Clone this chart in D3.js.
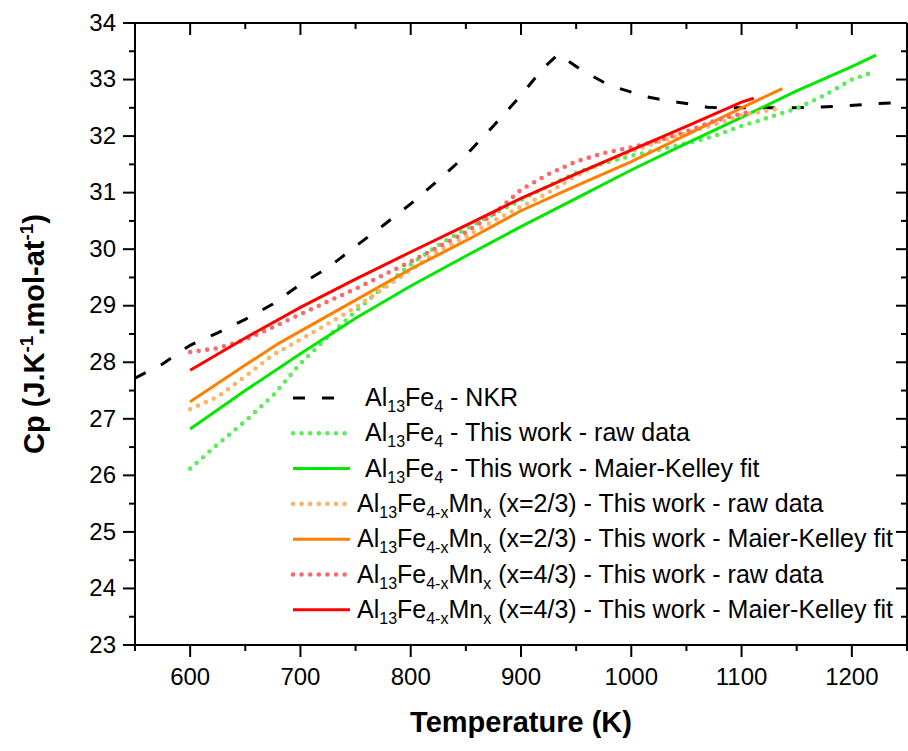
<!DOCTYPE html>
<html>
<head>
<meta charset="utf-8">
<script src="https://cdn.jsdelivr.net/npm/d3@7"></script>
<style>
body { margin: 0; background: #fff; }
text { font-family: Arial, "Liberation Sans", sans-serif; }
</style>
</head>
<body>
<div id="chart"></div>
<script>
// values (T in K, Cp in J/K/mol-at)
var nkrT  = [550, 575, 600, 625, 650, 675, 700, 725, 750, 775, 800, 825, 850, 875, 900, 920, 934, 953, 963, 976, 988, 1003, 1015, 1029, 1042, 1058, 1069, 1082, 1110, 1138, 1165, 1192, 1219, 1250];
var nkrCp = [27.72, 27.97, 28.3, 28.52, 28.76, 29.03, 29.38, 29.67, 30.05, 30.42, 30.8, 31.22, 31.66, 32.18, 32.72, 33.2, 33.45, 33.19, 33.08, 32.94, 32.85, 32.76, 32.69, 32.64, 32.6, 32.55, 32.51, 32.5, 32.5, 32.5, 32.51, 32.53, 32.57, 32.6];

var rawT0  = [600, 625, 650, 675, 700, 725, 750, 775, 800, 825, 850, 875, 900, 925, 950, 975, 1000, 1025, 1050, 1075, 1100, 1125, 1150, 1175, 1200, 1222];
var rawCp0 = [26.12, 26.55, 26.96, 27.41, 27.98, 28.45, 28.9, 29.33, 29.73, 30.07, 30.36, 30.62, 30.87, 31.12, 31.35, 31.52, 31.65, 31.76, 31.87, 32.0, 32.18, 32.33, 32.49, 32.72, 33.0, 33.15];
var fitT0  = [600, 650, 700, 750, 800, 850, 900, 950, 1000, 1050, 1100, 1150, 1200, 1222];
var fitCp0 = [26.82, 27.5, 28.15, 28.78, 29.35, 29.88, 30.4, 30.9, 31.4, 31.87, 32.33, 32.8, 33.23, 33.43];

var rawT1  = [600, 625, 650, 675, 700, 725, 750, 775, 800, 825, 850, 875, 900, 925, 950, 975, 1000, 1025, 1050, 1075, 1100, 1132];
var rawCp1 = [27.17, 27.39, 27.75, 28.13, 28.4, 28.68, 28.97, 29.3, 29.63, 29.97, 30.22, 30.5, 30.75, 31.0, 31.3, 31.53, 31.73, 31.9, 32.05, 32.2, 32.37, 32.48];
var fitT1  = [600, 650, 680, 700, 750, 800, 850, 900, 950, 1000, 1050, 1100, 1137];
var fitCp1 = [27.3, 27.95, 28.33, 28.55, 29.1, 29.65, 30.15, 30.68, 31.12, 31.55, 32.02, 32.5, 32.84];

var rawT2  = [600, 625, 650, 675, 700, 750, 800, 850, 875, 900, 925, 950, 975, 1000, 1025, 1050, 1075, 1107];
var rawCp2 = [28.18, 28.25, 28.4, 28.62, 28.85, 29.3, 29.78, 30.3, 30.62, 31.05, 31.33, 31.55, 31.7, 31.8, 31.92, 32.08, 32.27, 32.43];
var fitT2  = [600, 650, 700, 750, 800, 850, 900, 950, 1000, 1050, 1100, 1111];
var fitCp2 = [27.86, 28.43, 28.97, 29.47, 29.95, 30.42, 30.9, 31.33, 31.75, 32.17, 32.6, 32.67];

var xTicks = [600, 700, 800, 900, 1000, 1100, 1200];
var xMinor = [550, 650, 750, 850, 950, 1050, 1150, 1250];
var yTicks = [23, 24, 25, 26, 27, 28, 29, 30, 31, 32, 33, 34];
var yMinor = [23.5, 24.5, 25.5, 26.5, 27.5, 28.5, 29.5, 30.5, 31.5, 32.5, 33.5];

// legend: [main, sub, main, sub, main, sub, rest]
var legendNames = [
  ["Al", "13", "Fe", "4", "", "", " - NKR"],
  ["Al", "13", "Fe", "4", "", "", " - This work - raw data"],
  ["Al", "13", "Fe", "4", "", "", " - This work - Maier-Kelley fit"],
  ["Al", "13", "Fe", "4-x", "Mn", "x", " (x=2/3) - This work - raw data"],
  ["Al", "13", "Fe", "4-x", "Mn", "x", " (x=2/3) - This work - Maier-Kelley fit"],
  ["Al", "13", "Fe", "4-x", "Mn", "x", " (x=4/3) - This work - raw data"],
  ["Al", "13", "Fe", "4-x", "Mn", "x", " (x=4/3) - This work - Maier-Kelley fit"]
];

var series = [
  {T: nkrT, Cp: nkrCp, color: "#000000", style: "dash"},
  {T: rawT0, Cp: rawCp0, color: "#5cec5c", style: "dot"},
  {T: fitT0, Cp: fitCp0, color: "#00e800", style: "solid"},
  {T: rawT1, Cp: rawCp1, color: "#ffb36b", style: "dot"},
  {T: fitT1, Cp: fitCp1, color: "#ff8000", style: "solid"},
  {T: rawT2, Cp: rawCp2, color: "#fa6a6a", style: "dot"},
  {T: fitT2, Cp: fitCp2, color: "#ff0000", style: "solid"}
];

var margin = {top: 23, right: 1, bottom: 106, left: 135};
var width = 908 - margin.left - margin.right;
var height = 751 - margin.top - margin.bottom;

var svg = d3.select("#chart").append("svg")
    .attr("width", 908)
    .attr("height", 751);

var g = svg.append("g")
    .attr("transform", "translate(" + margin.left + "," + margin.top + ")");

var x = d3.scaleLinear().domain([550, 1250]).range([0, width]);
var y = d3.scaleLinear().domain([23, 34]).range([height, 0]);

g.append("clipPath").attr("id", "clip")
  .append("rect").attr("width", width).attr("height", height);

function styleLine(sel, s) {
  sel.attr("fill", "none").attr("stroke", s.color);
  if (s.style == "dash") {
    sel.attr("stroke-width", 3).attr("stroke-dasharray", "12,17");
  } else if (s.style == "dot") {
    sel.attr("stroke-width", 4.6).attr("stroke-dasharray", "0,8.6")
       .attr("stroke-linecap", "round");
  } else {
    sel.attr("stroke-width", 3);
  }
}

var line = d3.line()
    .x(function(d) { return x(d[0]); })
    .y(function(d) { return y(d[1]); });

var plot = g.append("g").attr("clip-path", "url(#clip)");
series.forEach(function(s) {
  var pts = s.T.map(function(t, i) { return [t, s.Cp[i]]; });
  plot.append("path").datum(pts).attr("d", line).call(styleLine, s);
});

// axes
function axisStyle(a) {
  a.selectAll("path").attr("stroke", "#000").attr("stroke-width", 2);
  a.selectAll("line").attr("stroke", "#000").attr("stroke-width", 2);
  a.selectAll("text").style("font-size", "24px").attr("fill", "#000");
}
var fmt = d3.format("d");

g.append("g").attr("transform", "translate(0," + height + ")")
  .call(d3.axisBottom(x).tickValues(xTicks).tickSize(12).tickPadding(11).tickFormat(fmt).tickSizeOuter(0).offset(0))
  .call(axisStyle);
g.append("g").attr("transform", "translate(0," + height + ")")
  .call(d3.axisBottom(x).tickValues(xMinor).tickSize(6).tickFormat("").tickSizeOuter(0).offset(0))
  .call(axisStyle);
g.append("g")
  .call(d3.axisLeft(y).tickValues(yTicks).tickSize(12).tickPadding(7).tickFormat(fmt).tickSizeOuter(0).offset(0))
  .call(axisStyle);
g.append("g")
  .call(d3.axisLeft(y).tickValues(yMinor).tickSize(6).tickFormat("").tickSizeOuter(0).offset(0))
  .call(axisStyle);
g.append("g")
  .call(d3.axisTop(x).tickValues(xTicks).tickSize(-12).tickFormat("").tickSizeOuter(0).offset(0))
  .call(axisStyle);
g.append("g")
  .call(d3.axisTop(x).tickValues(xMinor).tickSize(-6).tickFormat("").tickSizeOuter(0).offset(0))
  .call(axisStyle);
g.append("g").attr("transform", "translate(" + width + ",0)")
  .call(d3.axisRight(y).tickValues(yTicks).tickSize(-11).tickFormat("").tickSizeOuter(0).offset(0))
  .call(axisStyle);
g.append("g").attr("transform", "translate(" + width + ",0)")
  .call(d3.axisRight(y).tickValues(yMinor).tickSize(-6).tickFormat("").tickSizeOuter(0).offset(0))
  .call(axisStyle);

// axis titles
svg.append("text")
  .attr("x", margin.left + width / 2)
  .attr("y", 732)
  .attr("text-anchor", "middle")
  .style("font-size", "29px")
  .style("font-weight", "bold")
  .text("Temperature (K)");

var yt = svg.append("text")
  .attr("transform", "translate(44," + (margin.top + height / 2) + ") rotate(-90)")
  .attr("text-anchor", "middle")
  .style("font-size", "29px")
  .style("font-weight", "bold");
yt.append("tspan").text("Cp (J.K");
yt.append("tspan").attr("dy", -11).style("font-size", "19px").text("-1");
yt.append("tspan").attr("dy", 11).text(".mol-at");
yt.append("tspan").attr("dy", -11).style("font-size", "19px").text("-1");
yt.append("tspan").attr("dy", 11).text(")");

// legend
var legend = svg.append("g");
legendNames.forEach(function(n, i) {
  var s = series[i];
  var ry = 398 + i * 35.3;
  var x1 = s.style == "solid" ? 350 : 345;
  legend.append("line")
    .attr("x1", 293).attr("x2", x1).attr("y1", ry).attr("y2", ry)
    .call(styleLine, s);
  var t = legend.append("text")
    .attr("x", n[4] ? 357 : 365)
    .attr("y", ry + 8)
    .style("font-size", "25px");
  t.append("tspan").text(n[0]);
  t.append("tspan").attr("dy", 6).style("font-size", "16px").text(n[1]);
  t.append("tspan").attr("dy", -6).text(n[2]);
  t.append("tspan").attr("dy", 6).style("font-size", "16px").text(n[3]);
  if (n[4]) {
    t.append("tspan").attr("dy", -6).text(n[4]);
    t.append("tspan").attr("dy", 6).style("font-size", "16px").text(n[5]);
  }
  t.append("tspan").attr("dy", -6).text(n[6]);
});
</script>
</body>
</html>
